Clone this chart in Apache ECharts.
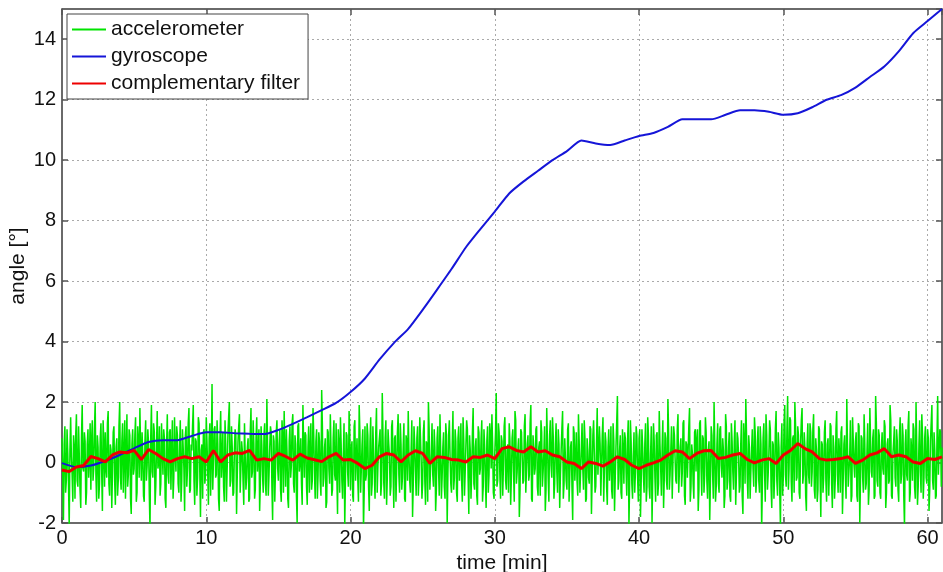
<!DOCTYPE html>
<html>
<head>
<meta charset="utf-8">
<title>angle vs time</title>
<script src="https://cdn.jsdelivr.net/npm/echarts/dist/echarts.min.js"></script>
<style>
  html, body { margin: 0; padding: 0; background: #fff; }
  #chart { width: 943px; height: 572px; }
</style>
</head>
<body>
<div id="chart"></div>
<script>
// accelerometer angle (rows = 1 min)
// samples at 0.0, 0.1, 0.2 ... min
var accelStep = 0.1;
var accelValues = [
  0.8, -1.9, 1.2, -0.6, 0.3, -2.1, 1.5, -0.4, 0.9, -1.2,
  1.6, -0.8, 0.2, -1.5, 1.9, -0.3, 0.7, -1.0, 1.1, 0.1,
  -0.9, 1.4, -0.2, 2.0, -1.3, 0.5, -0.7, 1.3, -1.6, 0.6,
  1.0, -0.5, 1.7, -1.1, 0.4, -0.3, 1.2, -1.4, 0.8, -0.6,
  2.0, -0.9, 1.3, 0.2, -1.2, 1.6, -0.4, 0.9, -1.7, 1.1,
  -0.2, 1.5, -1.0, 0.7, 1.8, -0.6, 0.3, -1.3, 1.4, -0.1,
  0.6, -2.2, 1.9, -0.5, 1.0, -0.8, 1.7, 0.0, -1.1, 1.3,
  -0.4, 0.8, -1.5, 1.6, -0.7, 1.1, 0.3, -1.2, 1.5, -0.3,
  0.9, -1.0, 1.4, -0.6, 0.5, -1.6, 1.2, -0.2, 1.8, -0.9,
  0.4, 1.9, -1.4, 0.7, -0.5, 1.3, -1.8, 0.6, 1.0, -0.7,
  1.5, -0.3, 0.8, -1.1, 2.6, -0.9, 1.2, -0.4, 0.6, -1.6,
  1.7, 0.1, -0.8, 1.4, -1.3, 0.9, 2.0, -0.6, 0.5, -1.0,
  1.1, -1.7, 0.7, 1.6, -0.2, 0.4, -1.4, 1.3, -0.5, 0.8,
  -1.2, 1.8, -0.3, 0.6, -0.9, 1.5, 0.2, -1.6, 1.2, -0.4,
  0.9, -0.7, 2.1, -1.1, 0.5, 1.0, -1.9, 0.7, -0.2, 1.4,
  -0.6, 1.1, -1.3, 0.8, 1.7, -0.8, 0.3, -1.5, 1.2, -0.1,
  1.6, -1.0, 0.6, -2.0, 1.3, 0.0, -0.7, 1.9, -0.5, 0.9,
  -1.4, 1.2, 0.4, -0.9, 1.8, -0.3, 0.7, -1.2, 1.0, -0.6,
  2.4, -0.8, 0.5, -1.5, 1.1, -0.2, 1.6, -1.1, 0.8, -0.4,
  1.3, -1.7, 0.6, 1.5, -0.6, 0.2, -2.1, 1.0, -0.3, 1.7,
  -0.9, 0.7, -1.3, 1.4, 0.1, -0.5, 1.9, -1.0, 0.6, -2.2,
  1.2, -0.4, 0.9, -1.6, 1.5, -0.7, 0.3, -1.2, 1.8, -0.1,
  0.5, -1.1, 2.3, -0.6, 0.8, -1.4, 1.1, 0.2, -0.8, 1.4,
  -1.5, 0.9, -0.2, 1.6, -1.0, 0.6, -0.5, 1.3, -1.3, 0.7,
  1.7, -0.6, 0.4, -1.8, 1.2, -0.3, 0.8, -1.1, 1.5, 0.0,
  -0.7, 1.4, -1.4, 0.6, 2.0, -0.9, 0.3, -0.4, 1.1, -1.6,
  0.8, -0.2, 1.6, -1.2, 0.5, -0.8, 1.3, -2.0, 0.9, 0.2,
  -1.0, 1.7, -0.5, 0.7, -1.3, 1.2, 0.1, -0.6, 1.5, -1.1,
  0.6, 1.1, -1.7, 0.4, -0.3, 1.8, -0.9, 0.8, -1.4, 1.0,
  -0.2, 1.4, -0.8, 0.5, -1.5, 1.2, -0.4, 0.9, 1.6, -1.0,
  0.3, 2.3, -0.6, 1.0, -1.2, 0.7, -0.1, 1.5, -0.9, 0.6,
  1.3, -1.4, 0.8, -0.3, 1.7, -0.7, 0.4, -1.8, 1.1, 0.2,
  -0.6, 1.6, -1.0, 0.9, -0.4, 1.9, -1.3, 0.5, -0.2, 1.2,
  -1.1, 0.7, 1.4, -0.8, 0.3, -1.6, 1.8, -0.5, 0.9, -0.1,
  1.5, -1.2, 0.6, -0.3, 1.1, -1.5, 0.4, 1.7, -0.7, 0.8,
  -0.9, 1.3, -0.4, 0.7, -1.9, 1.0, 0.1, -0.6, 1.6, -1.0,
  0.5, -0.2, 1.4, -1.3, 0.8, -0.5, 1.2, -1.7, 0.9, 0.3,
  -0.8, 1.8, -0.4, 0.6, -1.1, 1.5, -0.2, 0.7, -1.4, 1.1,
  0.0, -0.9, 1.3, -1.6, 0.5, 2.2, -0.6, 0.9, -1.2, 0.4,
  1.0, -0.3, 0.7, -2.1, 1.4, -0.7, 0.2, -1.0, 1.2, -0.5,
  0.8, -1.8, 1.1, -0.4, 0.6, -1.3, 1.5, -0.8, 0.3, -2.0,
  1.3, -0.5, 0.9, -1.1, 1.7, -0.2, 0.5, -1.5, 1.0, -0.6,
  2.1, -0.9, 0.4, -1.2, 1.2, 0.1, -0.7, 1.6, -1.0, 0.8,
  -0.3, 1.4, -1.4, 0.6, -0.5, 1.8, -0.8, 0.3, -1.2, 1.1,
  0.7, -1.6, 1.3, -0.2, 0.9, -1.0, 1.5, -0.6, 0.4, -1.9,
  1.2, -0.4, 2.0, -1.3, 0.6, -0.7, 1.1, -0.1, 0.8, -1.5,
  1.6, -0.9, 0.5, -1.1, 1.3, -0.3, 0.7, -1.4, 1.0, 0.2,
  -0.8, 1.4, -1.7, 0.6, 2.1, -0.5, 0.9, -1.2, 0.4, -0.2,
  1.5, -1.0, 0.7, -0.6, 1.2, -2.2, 0.8, -0.3, 1.6, -0.9,
  0.3, 1.1, -1.5, 0.6, -0.4, 1.7, -1.1, 0.5, -2.1, 1.3,
  -0.5, 1.9, -0.8, 2.2, -0.2, 1.4, -1.3, 0.9, 2.0, -0.6,
  1.2, -1.0, 0.7, 1.8, -0.4, 0.5, -1.6, 1.3, -0.7, 1.0,
  -0.3, 1.6, -1.2, 0.4, -0.9, 1.1, -1.8, 0.6, -0.5, 1.4,
  -1.3, 0.8, -0.2, 1.2, -1.5, 0.5, -0.6, 1.7, -1.0, 0.3,
  1.0, -1.7, 0.6, -0.4, 2.1, -0.8, 0.2, -1.3, 1.5, -0.1,
  0.7, -1.1, 1.3, -2.0, 0.9, -0.5, 1.6, -0.9, 0.4, -1.4,
  1.8, -0.3, 0.8, -1.2, 2.2, -0.6, 1.1, -1.0, 0.5, -0.2,
  1.4, -1.5, 0.6, -0.7, 1.9, -1.1, 0.3, 1.2, -0.8, 0.7,
  -1.3, 1.5, -0.4, 0.9, -2.1, 1.1, -0.6, 1.7, -1.0, 0.4,
  1.3, -0.8, 2.0, -1.4, 0.6, -0.3, 1.6, -1.2, 0.8, -0.5,
  1.1, -1.6, 0.7, 1.9, -0.9, 0.4, -1.1, 2.2, -0.4, 1.0,
  0.5
];
// samples in between, at 0.05, 0.15, 0.25 ... min
var accelMidValues = [
  -0.3, 0.6, -1.0, 1.1, -0.7, 0.4, 0.2, -1.3, 0.5, 0.9,
  -0.6, 1.2, -0.9, 0.8, -0.2, 1.0, -1.4, 0.6, -0.5, 1.3,
  0.7, -0.6, 1.1, -0.4, 0.9, -1.2, 0.8, -0.3, 1.4, -0.8,
  -0.2, 1.3, -0.7, 0.6, -1.5, 1.0, -0.6, 0.5, -1.1, 1.2,
  -0.5, 0.7, -1.0, 1.4, 0.3, -0.8, 1.1, -1.2, 0.6, -0.4,
  0.9, -1.3, 1.2, -0.5, 0.4, 1.0, -1.1, 0.7, -0.6, 1.1,
  -1.0, 0.8, -0.3, 1.3, -1.4, 0.5, -0.2, 1.2, -0.7, 0.4,
  1.1, -1.2, 0.6, -0.4, 1.0, -0.9, 1.4, -0.5, 0.3, 1.2,
  -0.7, 0.5, -1.3, 1.1, -0.2, 0.9, -0.8, 1.3, -1.0, 0.6,
  1.2, -0.6, 0.8, -1.1, 1.5, -0.3, 0.4, -1.2, 1.1, -0.4,
  0.7, -1.4, 1.3, 0.2, -0.9, 1.1, -0.5, 1.4, -1.2, 0.8,
  -0.5, 1.0, -1.3, 0.6, -0.2, 1.5, -0.8, 1.2, -1.1, 0.4,
  0.9, -0.4, 1.2, -1.0, 0.7, -0.6, 1.3, -0.9, 0.5, -1.3,
  1.0, -0.5, 1.4, -1.2, 0.8, -0.3, 1.1, -0.7, 0.6, -1.0,
  1.3, -1.1, 0.5, -0.4, 1.2, -0.8, 0.9, -1.3, 1.0, -0.2,
  0.6, -0.9, 1.4, -1.0, 0.4, 1.1, -1.2, 0.7, -0.5, 1.3,
  -0.7, 0.9, -1.1, 1.2, -0.3, 0.8, -1.4, 0.6, 1.0, -0.8,
  0.5, -1.0, 1.3, -0.6, 0.9, -1.2, 1.1, -0.4, 0.7, -1.1,
  1.2, -0.5, 0.8, -1.3, 1.0, -0.7, 0.4, -0.9, 1.4, -0.6,
  -0.4, 1.1, -1.0, 0.6, -1.2, 1.3, -0.5, 0.9, -0.8, 1.0,
  0.4, -1.1, 1.2, -0.6, 0.8, -1.3, 1.0, -0.2, 1.1, -0.9,
  -0.6, 1.3, -0.8, 0.7, -1.1, 1.2, -0.4, 1.0, -1.0, 0.5,
  1.1, -0.7, 0.9, -1.2, 1.4, -0.5, 0.6, -1.1, 1.2, -0.3,
  0.8, -1.3, 1.0, -0.4, 1.3, -0.9, 0.5, -1.2, 0.9, -0.6,
  0.3, -1.0, 1.4, -0.7, 0.6, -1.1, 1.2, -0.5, 0.8, -1.2,
  1.0, -0.6, 0.7, -1.3, 1.1, -0.2, 1.3, -0.8, 0.5, -0.9,
  1.2, -1.1, 0.4, -0.5, 1.0, -1.2, 0.9, -0.4, 1.4, -0.7,
  0.6, -0.9, 1.1, -1.0, 0.8, -0.6, 1.3, -1.3, 0.7, -0.3,
  1.4, -0.5, 0.9, -1.2, 1.0, -0.7, 0.5, -1.1, 1.2, -0.4,
  0.8, -1.3, 1.1, -0.6, 0.7, -1.0, 1.3, -0.2, 0.6, -1.2,
  1.0, -0.8, 1.3, -0.4, 0.9, -1.1, 1.2, -0.6, 0.4, -1.0,
  0.7, -0.5, 1.1, -1.3, 1.4, -0.3, 0.8, -0.9, 1.0, -0.7,
  1.2, -1.0, 0.6, -0.6, 1.3, -1.2, 0.9, -0.4, 1.1, -0.8,
  0.5, -1.1, 1.0, -0.3, 1.2, -0.9, 0.7, -1.3, 1.4, -0.5,
  0.9, -0.7, 1.3, -1.0, 0.6, -0.4, 1.1, -1.2, 0.8, -0.6,
  1.1, -1.3, 0.5, -0.8, 1.2, -0.6, 1.0, -1.1, 0.7, -0.3,
  1.3, -0.9, 0.8, -1.2, 0.4, -0.7, 1.1, -0.5, 1.4, -1.0,
  0.6, -0.4, 1.2, -1.1, 0.9, -1.3, 1.0, -0.8, 0.5, -0.6,
  1.2, -1.2, 0.7, -0.5, 1.3, -0.9, 0.4, -1.0, 1.1, -0.7,
  0.8, -1.1, 1.4, -0.6, 0.7, -1.2, 1.0, -0.3, 0.9, -1.3,
  1.1, -0.6, 0.5, -1.0, 1.3, -0.8, 0.9, -1.2, 1.2, -0.4,
  0.7, -1.3, 1.0, -0.7, 0.6, -1.1, 1.4, -0.5, 0.8, -0.9,
  1.0, -0.4, 1.2, -1.2, 0.9, -0.6, 1.1, -1.0, 0.5, -0.8,
  1.3, -1.1, 0.7, -0.5, 1.2, -1.3, 0.6, -0.7, 1.0, -0.3,
  1.1, -0.9, 1.4, -1.1, 0.8, -0.4, 1.0, -1.2, 0.7, -0.6,
  0.9, -1.2, 0.6, -0.8, 1.3, -1.0, 1.2, -0.5, 0.4, -1.1,
  1.2, -0.6, 1.0, -1.3, 0.7, -0.9, 1.4, -0.4, 0.8, -1.0,
  0.6, -1.1, 1.3, -0.7, 0.9, -1.2, 0.5, -0.3, 1.1, -0.8,
  1.0, -0.5, 1.2, -1.0, 0.6, -0.7, 1.3, -1.3, 0.9, -0.4,
  1.4, -0.8, 0.7, -1.2, 1.1, -0.6, 1.0, -0.9, 0.5, -1.1,
  1.3, -0.4, 1.1, -0.9, 1.5, -0.6, 0.8, -1.0, 1.2, -0.5,
  0.9, -1.2, 1.4, -0.7, 1.0, -1.1, 0.6, -0.4, 1.3, -0.8,
  1.1, -0.9, 0.8, -1.3, 1.2, -0.5, 0.7, -1.0, 1.0, -0.6,
  0.6, -1.1, 1.3, -0.7, 0.9, -1.2, 1.1, -0.4, 0.8, -1.0,
  1.2, -0.6, 0.9, -1.2, 0.5, -0.8, 1.4, -1.1, 0.7, -0.5,
  1.0, -1.3, 1.2, -0.6, 0.8, -1.0, 0.6, -0.7, 1.3, -0.9,
  0.7, -0.5, 1.1, -1.1, 1.3, -0.8, 0.9, -1.2, 1.0, -0.4,
  1.2, -1.0, 0.8, -0.6, 1.4, -1.2, 0.7, -0.5, 1.1, -0.9,
  0.9, -0.7, 1.3, -1.1, 0.6, -0.4, 1.2, -1.3, 0.8, -0.6,
  1.1, -1.2, 0.5, -0.8, 1.4, -1.0, 0.9, -0.5, 1.2, -0.7,
  0.8, -0.9, 1.3, -0.6, 1.0, -1.2, 0.7, -0.4, 1.1, -0.8
];

// gyroscope angle, one reading per minute
var gyroTime = [
  0, 1, 2, 3, 4, 5, 6, 7, 8, 9, 10, 11, 12, 13, 14, 15, 16, 17, 18, 19, 20,
  21, 22, 23, 24, 25, 26, 27, 28, 29, 30, 31, 32, 33, 34, 35, 36, 37, 38, 39, 40,
  41, 42, 43, 44, 45, 46, 47, 48, 49, 50, 51, 52, 53, 54, 55, 56, 57, 58, 59, 60, 61
];
var gyroValues = [
  -0.02, -0.15, -0.1, 0.05, 0.25, 0.47, 0.68, 0.74, 0.74, 0.88, 1.0,
  1.0, 0.97, 0.95, 0.94, 1.08, 1.28, 1.5, 1.73, 1.97, 2.33,
  2.78, 3.4, 3.95, 4.42, 5.05, 5.72, 6.4, 7.12, 7.72, 8.3,
  8.9, 9.3, 9.65, 10.0, 10.3, 10.65, 10.55, 10.5, 10.65, 10.8,
  10.9, 11.1, 11.35, 11.35, 11.35, 11.5, 11.65, 11.65, 11.6, 11.5,
  11.55, 11.75, 12.0, 12.15, 12.4, 12.75, 13.1, 13.6, 14.2, 14.6, 15.0
];

// complementary filter angle, one reading every 0.5 min
var filterStep = 0.5;
var filterValues = [
  -0.25, -0.3, -0.15, -0.1, 0.2, 0.13, 0.02, 0.25, 0.35, 0.32,
  0.4, 0.1, 0.43, 0.3, 0.13, 0.02, 0.13, 0.19, 0.13, 0.19,
  0.02, 0.4, 0.02, 0.25, 0.32, 0.3, 0.4, 0.08, 0.13, 0.08,
  0.3, 0.2, 0.08, 0.28, 0.15, 0.09, 0.03, 0.19, 0.3, 0.08,
  0.1, -0.03, -0.2, -0.09, 0.19, 0.3, 0.25, 0.02, 0.25, 0.39,
  0.3, -0.03, 0.19, 0.17, 0.1, 0.08, 0.02, 0.19, 0.17, 0.25,
  0.13, 0.46, 0.52, 0.4, 0.35, 0.52, 0.35, 0.39, 0.25, 0.19,
  0.02, -0.03, -0.2, 0.02, -0.03, -0.12, 0.02, 0.19, 0.1, -0.09,
  -0.2, -0.09, -0.01, 0.08, 0.25, 0.39, 0.35, 0.13, 0.3, 0.39,
  0.4, 0.13, 0.17, 0.25, 0.3, 0.1, -0.01, 0.08, 0.13, -0.03,
  0.25, 0.4, 0.63, 0.46, 0.35, 0.13, 0.08, 0.1, 0.13, 0.19,
  -0.03, 0.08, 0.25, 0.32, 0.46, 0.19, 0.25, 0.19, 0.02, -0.03,
  0.13, 0.1, 0.19
];

var xTicks = { min: 0, max: 61, interval: 10 };
var yTicks = { min: -2, max: 15, interval: 2 };

// merge the two accelerometer sample sets into one time-ordered series
var accelData = [];
accelValues.forEach(function (v, i) {
  accelData.push([+(i * accelStep).toFixed(2), v]);
  if (i < accelMidValues.length) {
    accelData.push([+((i + 0.5) * accelStep).toFixed(2), accelMidValues[i]]);
  }
});

var chart = echarts.init(document.getElementById('chart'));

var font = 'Liberation Sans, Arial, sans-serif';
var frameColor = '#555';

function frameAxis(extra) {
  return Object.assign({
    type: 'value',
    axisLine: { show: true, onZero: false, lineStyle: { color: frameColor, width: 1.5 } },
    axisTick: { show: true, inside: true, length: 6, lineStyle: { color: frameColor, width: 1.5 } },
    axisLabel: { show: false },
    splitLine: { show: false }
  }, extra);
}

chart.setOption({
  animation: false,
  backgroundColor: '#fff',
  textStyle: { fontFamily: font },
  grid: {
    left: 62, right: 1, top: 9, bottom: 49,
    outerBoundsMode: 'none',
    containLabel: false,
    show: true, borderColor: frameColor, borderWidth: 1
  },
  legend: {
    left: 67, top: 14,
    orient: 'vertical',
    padding: [5, 8, 5, 5],
    itemGap: 6,
    itemWidth: 34,
    itemHeight: 2,
    icon: 'rect',
    backgroundColor: '#fff',
    borderColor: '#444',
    borderWidth: 1,
    borderRadius: 0,
    textStyle: { fontSize: 21, color: '#111', fontFamily: font },
    data: ['accelerometer', 'gyroscope', 'complementary filter']
  },
  xAxis: [
    frameAxis({
      min: xTicks.min, max: xTicks.max, interval: xTicks.interval,
      position: 'bottom',
      name: 'time [min]',
      nameLocation: 'middle',
      nameGap: 30,
      nameMoveOverlap: false,
      nameTextStyle: { fontSize: 21, color: '#111', fontFamily: font },
      axisLabel: { show: true, fontSize: 20, color: '#111', margin: 5, showMaxLabel: false },
      splitLine: { show: true, lineStyle: { color: '#aaa', type: [2, 3], width: 1 } }
    }),
    frameAxis({ min: xTicks.min, max: xTicks.max, interval: xTicks.interval, position: 'top' })
  ],
  yAxis: [
    frameAxis({
      min: yTicks.min, max: yTicks.max, interval: yTicks.interval,
      position: 'left',
      name: 'angle [°]',
      nameLocation: 'middle',
      nameGap: 33,
      nameMoveOverlap: false,
      nameTextStyle: { fontSize: 21, color: '#111', fontFamily: font },
      axisLabel: { show: true, fontSize: 20, color: '#111', margin: 6, showMaxLabel: false },
      splitLine: { show: true, lineStyle: { color: '#aaa', type: [2, 3], width: 1 } }
    }),
    frameAxis({ min: yTicks.min, max: yTicks.max, interval: yTicks.interval, position: 'right' })
  ],
  series: [
    {
      name: 'accelerometer',
      type: 'line',
      symbol: 'none',
      clip: true,
      lineStyle: { color: '#00e400', width: 1.5 },
      itemStyle: { color: '#00e400' },
      data: accelData
    },
    {
      name: 'gyroscope',
      type: 'line',
      symbol: 'none',
      smooth: 0.2,
      lineStyle: { color: '#1515d8', width: 2 },
      itemStyle: { color: '#1515d8' },
      data: gyroTime.map(function (t, i) { return [t, gyroValues[i]]; })
    },
    {
      name: 'complementary filter',
      type: 'line',
      symbol: 'none',
      lineStyle: { color: '#ee0000', width: 3 },
      itemStyle: { color: '#ee0000' },
      data: filterValues.map(function (v, i) { return [i * filterStep, v]; })
    }
  ]
});
</script>
</body>
</html>
